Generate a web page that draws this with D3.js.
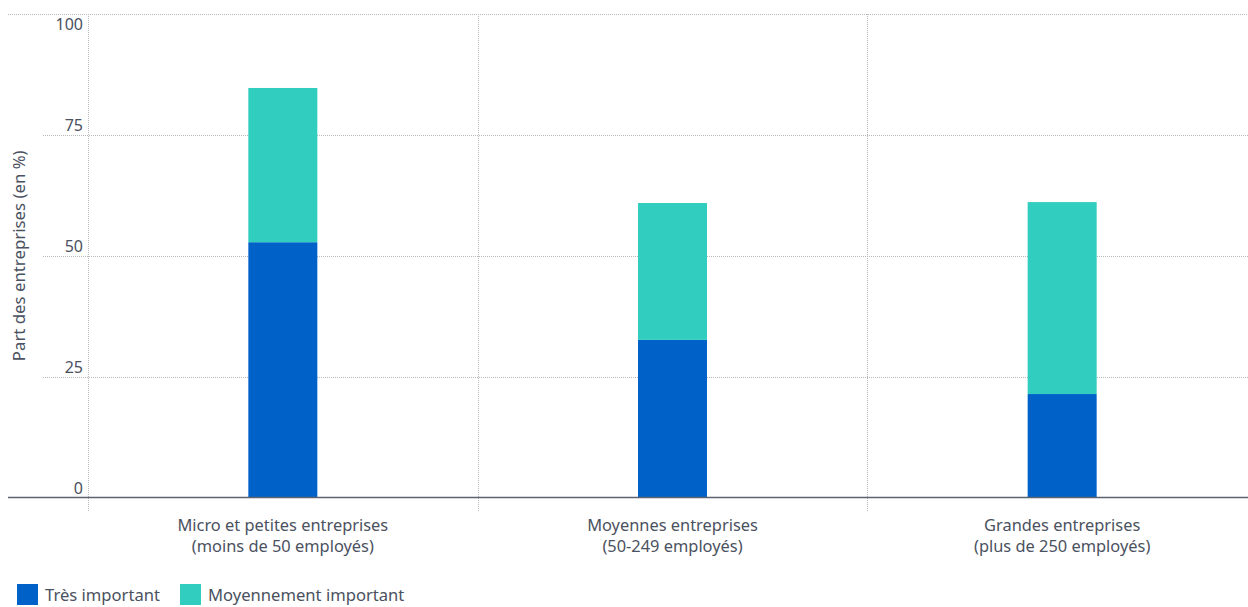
<!DOCTYPE html>
<html>
<head>
<meta charset="utf-8">
<script src="https://cdn.jsdelivr.net/npm/d3@7"></script>
<style>
  html, body { margin: 0; padding: 0; background: #fff; }
  svg { display: block; font-family: "Noto Sans", sans-serif; }
</style>
</head>
<body>
<svg id="chart" width="1248" height="607"></svg>
<script>
// Enterprise size categories (two-line labels)
const categories = [
  ["Micro et petites entreprises", "(moins de 50 employés)"],
  ["Moyennes entreprises", "(50-249 employés)"],
  ["Grandes entreprises", "(plus de 250 employés)"]
];
const seriesNames = ["Très important", "Moyennement important"];
const tresImportant = [52.8, 32.6, 21.4];
const moyennementImportant = [31.9, 28.3, 39.7];
const yTicks = [0, 25, 50, 75, 100];
const yTitle = "Part des entreprises (en %)";

const colors = ["#0062c9", "#31cdbe"];
const textColor = "#4a5160";

const svg = d3.select("#chart");
const plot = { left: 88, right: 1257, top: 14, bottom: 497.5 };

const x = d3.scaleBand()
  .domain(d3.range(categories.length))
  .range([plot.left, plot.right])
  .paddingInner(0).paddingOuter(0);

const y = d3.scaleLinear().domain([0, 100]).range([plot.bottom, plot.top]);

const barWidth = 69;

// Horizontal gridlines
const grid = svg.append("g");
grid.selectAll("line.h")
  .data(yTicks.filter(t => t > 0))
  .join("line")
  .attr("x1", d => d === 100 ? 8 : 43)
  .attr("x2", 1248)
  .attr("y1", d => Math.round(y(d)) + 0.5)
  .attr("y2", d => Math.round(y(d)) + 0.5)
  .attr("stroke", "#b8b8b8")
  .attr("stroke-width", 1)
  .attr("stroke-dasharray", "1,1");

// Vertical band separators
const seps = d3.range(categories.length).map(i => x(i));
grid.selectAll("line.v")
  .data(seps)
  .join("line")
  .attr("x1", d => Math.round(d) + 0.5)
  .attr("x2", d => Math.round(d) + 0.5)
  .attr("y1", plot.top)
  .attr("y2", 511)
  .attr("stroke", "#b8b8b8")
  .attr("stroke-width", 1)
  .attr("stroke-dasharray", "1,1");

// Stacked bars
const rows = categories.map((c, i) => ({ i, "Très important": tresImportant[i], "Moyennement important": moyennementImportant[i] }));
const stacked = d3.stack().keys(seriesNames)(rows);

svg.append("g").selectAll("g")
  .data(stacked)
  .join("g")
  .attr("fill", (d, k) => colors[k])
  .selectAll("rect")
  .data(d => d)
  .join("rect")
  .attr("x", d => x(d.data.i) + x.bandwidth() / 2 - barWidth / 2)
  .attr("width", barWidth)
  .attr("y", d => y(d[1]))
  .attr("height", d => y(d[0]) - y(d[1]));

// Baseline
svg.append("line")
  .attr("x1", 8).attr("x2", 1248)
  .attr("y1", y(0)).attr("y2", y(0))
  .attr("stroke", "#5c6370").attr("stroke-width", 1.5);

// Y axis tick labels (top label sits under its gridline)
const yAxis = d3.axisLeft(y).tickValues(yTicks).tickSize(0).tickPadding(0);
const yg = svg.append("g").attr("transform", "translate(83,0)").call(yAxis);
yg.select(".domain").remove();
yg.selectAll("text")
  .attr("dy", d => d === 100 ? "0.95em" : "-0.25em")
  .attr("fill", textColor)
  .style("font-size", "16px")
  .style("font-family", "'Noto Sans', sans-serif");

// Y axis title
svg.append("text")
  .attr("transform", `translate(25,${y(50)}) rotate(-90)`)
  .attr("text-anchor", "middle")
  .attr("fill", textColor)
  .style("font-size", "16.8px")
  .text(yTitle);

// Category labels
const catG = svg.append("g").selectAll("text")
  .data(categories)
  .join("text")
  .attr("text-anchor", "middle")
  .attr("fill", textColor)
  .style("font-size", "16.4px")
  .attr("x", (d, i) => x(i) + x.bandwidth() / 2)
  .attr("y", 531);
catG.selectAll("tspan")
  .data(d => d)
  .join("tspan")
  .attr("x", function () { return d3.select(this.parentNode).attr("x"); })
  .attr("dy", (d, k) => k === 0 ? 0 : 21)
  .text(d => d);

// Legend
const legendX = [17, 180];
const leg = svg.append("g").selectAll("g")
  .data(seriesNames)
  .join("g")
  .attr("transform", (d, i) => `translate(${legendX[i]},584)`);
leg.append("rect")
  .attr("width", 21).attr("height", 21)
  .attr("fill", (d, i) => colors[i]);
leg.append("text")
  .attr("x", 28).attr("y", 17)
  .attr("fill", textColor)
  .style("font-size", "16.6px")
  .text(d => d);
</script>
</body>
</html>
